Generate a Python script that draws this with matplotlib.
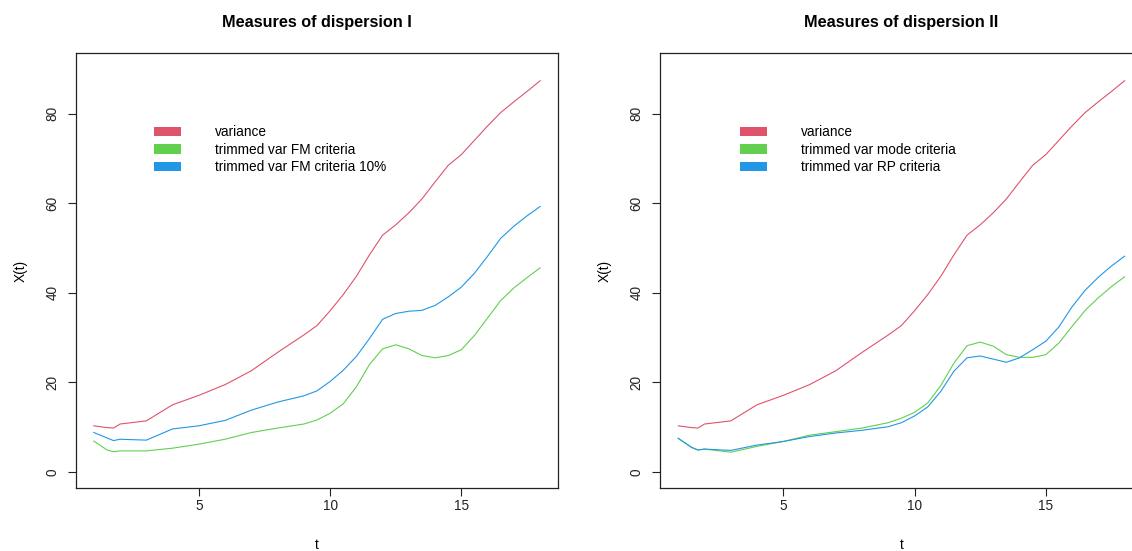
import matplotlib
matplotlib.use("Agg")
import matplotlib.pyplot as plt
from matplotlib.patches import Patch

plt.rcParams['font.family'] = ['Liberation Sans', 'DejaVu Sans']

# time grid of the curves
T = [1, 1.5, 1.75, 2, 3, 4, 5, 6, 7, 8, 9, 9.5, 10, 10.5, 11, 11.5, 12, 12.5,
     13, 13.5, 14, 14.5, 15, 15.5, 16, 16.5, 17, 17.5, 18]

VARIANCE = [10.3, 9.9, 9.8, 10.7, 11.4, 15.0, 17.1, 19.5, 22.6, 26.7, 30.6, 32.7,
            36.0, 39.6, 43.7, 48.5, 52.9, 55.2, 57.9, 61.0, 64.8, 68.5, 70.9, 74.1,
            77.3, 80.3, 82.7, 85.0, 87.4]

# panel I
TRIM_FM = [6.9, 4.9, 4.5, 4.7, 4.7, 5.3, 6.2, 7.3, 8.8, 9.8, 10.7, 11.6,
           13.1, 15.2, 19.0, 24.0, 27.5, 28.4, 27.5, 26.0, 25.5, 26.0, 27.3, 30.5,
           34.4, 38.3, 41.1, 43.4, 45.6]
TRIM_FM_10 = [8.8, 7.6, 7.0, 7.3, 7.1, 9.6, 10.3, 11.5, 13.8, 15.6, 17.0, 18.1,
              20.2, 22.7, 25.8, 29.8, 34.1, 35.4, 35.9, 36.1, 37.2, 39.1, 41.3, 44.4,
              48.2, 52.2, 54.9, 57.2, 59.3]

# panel II
TRIM_MODE = [7.5, 5.5, 4.9, 5.1, 4.4, 5.7, 6.8, 8.2, 9.0, 9.8, 11.0, 12.0,
             13.3, 15.4, 19.3, 24.3, 28.2, 29.0, 28.1, 26.2, 25.6, 25.6, 26.2, 28.8,
             32.5, 36.1, 38.9, 41.4, 43.6]
TRIM_RP = [7.5, 5.5, 4.9, 5.1, 4.8, 6.0, 6.8, 7.9, 8.7, 9.3, 10.1, 11.0,
           12.5, 14.5, 18.0, 22.5, 25.5, 25.9, 25.2, 24.5, 25.5, 27.3, 29.2, 32.4,
           36.9, 40.6, 43.5, 46.0, 48.2]

TITLES = ['Measures of dispersion I', 'Measures of dispersion II']
LABELS_I = ['variance', 'trimmed var FM criteria', 'trimmed var FM criteria 10%']
LABELS_II = ['variance', 'trimmed var mode criteria', 'trimmed var RP criteria']

COLS = ['#DF536B', '#61D04F', '#2297E6']

FIG = plt.figure(figsize=(11.32, 5.51), dpi=100)
AX1 = FIG.add_axes([0.0671, 0.1143, 0.4258, 0.7895])
AX2 = FIG.add_axes([0.5834, 0.1143, 0.4258, 0.7895])

PANELS = [(AX1, [VARIANCE, TRIM_FM, TRIM_FM_10], LABELS_I, TITLES[0], 0.162),
          (AX2, [VARIANCE, TRIM_MODE, TRIM_RP], LABELS_II, TITLES[1], 0.165)]

for AX, SERIES, LABELS, TITLE, LEGX in PANELS:
    for Y, C in zip(SERIES, COLS):
        AX.plot(T, Y, color=C, lw=0.8)
    # R-style 4% padding around the data range
    AX.set_xlim(1 - 0.04 * 17, 18 + 0.04 * 17)
    AX.set_ylim(0 - 0.04 * 90, 90 + 0.04 * 90)
    AX.set_xticks([5, 10, 15])
    AX.set_yticks([0, 20, 40, 60, 80])
    AX.tick_params(direction='out', length=6, width=0.8, labelsize=9.8, colors='#222222')
    AX.tick_params(axis='x', pad=2)
    AX.tick_params(axis='y', pad=6)
    for LBL in AX.get_yticklabels():
        LBL.set_rotation(90)
        LBL.set_va('center')
    for SP in AX.spines.values():
        SP.set_linewidth(0.9)
        SP.set_color('#222222')
    AX.set_xlabel('t', fontsize=9.8, labelpad=18)
    AX.set_ylabel('X(t)', fontsize=9.8, labelpad=13)
    AX.set_title(TITLE, fontsize=11.7, fontweight='bold', pad=19)
    HANDLES = [Patch(facecolor=C, edgecolor='none') for C in COLS]
    AX.legend(HANDLES, LABELS, loc='upper left', bbox_to_anchor=(LEGX, 0.834),
              frameon=False, fontsize=9.8, handlelength=2.0, handleheight=0.65,
              handletextpad=2.45, labelspacing=0.26, borderpad=0, borderaxespad=0)

FIG.savefig('out.png', dpi=100)
